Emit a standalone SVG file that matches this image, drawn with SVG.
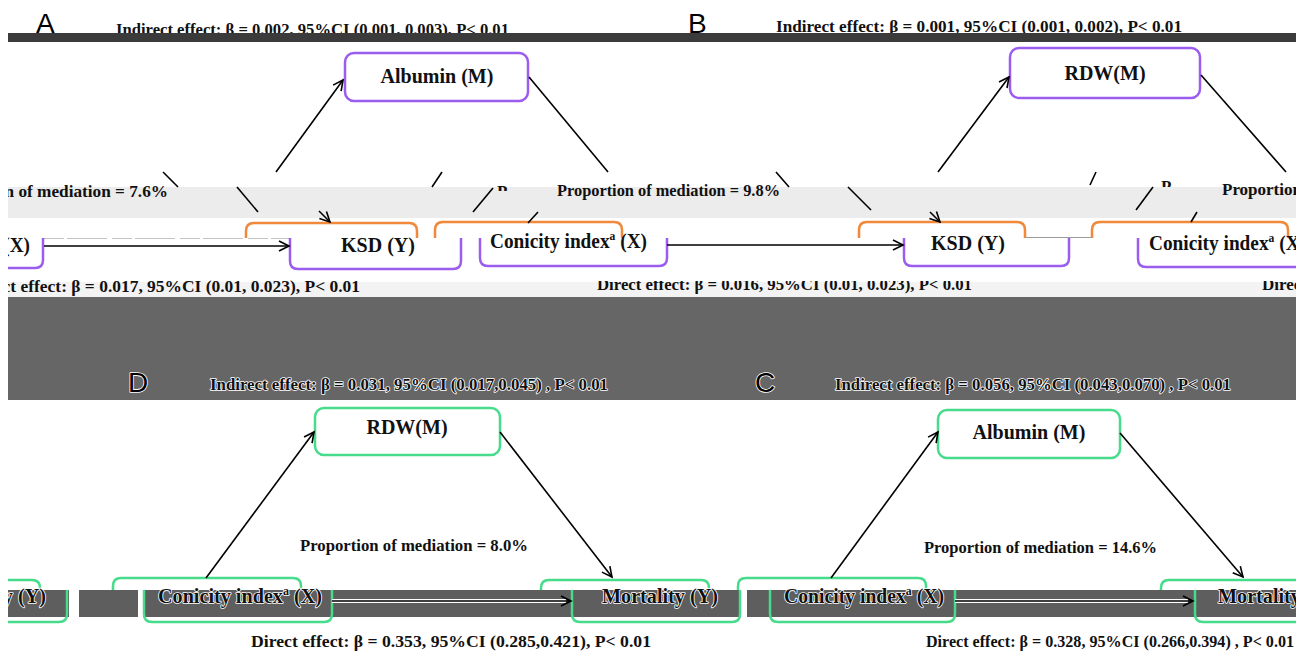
<svg xmlns="http://www.w3.org/2000/svg" width="1309" height="654" viewBox="0 0 1309 654">
<style>
.L{font-family:"Liberation Sans",Arial,sans-serif;font-size:28px;fill:#000}
.t{font-family:"Liberation Serif","Times New Roman",serif;font-weight:bold;fill:#111}
.n{font-size:20px}
.e{font-size:17px}
.h{stroke:#fff;stroke-width:1.6px;paint-order:stroke;stroke-linejoin:round}
.pb{fill:#fff;stroke:#9b5cf0;stroke-width:2.5}
.pbp{fill:none;stroke:#9b5cf0;stroke-width:2.5}
.po{fill:none;stroke:#f0893a;stroke-width:2.5}
.pg{fill:#fff;stroke:#46dc8c;stroke-width:2.5}
.pgp{fill:none;stroke:#46dc8c;stroke-width:2.5}
.c line,.c path{stroke:#000;stroke-width:1.6;fill:none}
</style>
<defs>
<marker id="ah" markerUnits="userSpaceOnUse" markerWidth="14" markerHeight="14" viewBox="0 0 14 14" refX="12" refY="7" orient="auto"><path d="M2,2 L12,7 L2,12" fill="none" stroke="#000" stroke-width="1.6"/></marker>
<clipPath id="cw"><rect x="8" y="0" width="1288" height="654"/></clipPath>
<clipPath id="cp1"><rect x="490" y="180" width="30" height="11"/></clipPath>
<clipPath id="cp2"><rect x="1155" y="176" width="30" height="11"/></clipPath>
<clipPath id="cd"><rect x="0" y="281" width="1309" height="20"/></clipPath>
</defs>
<rect width="1309" height="654" fill="#fff"/>
<g clip-path="url(#cw)">

<g id="panel-labels-top">
<text class="L" x="36" y="33">A</text>
<text class="L" x="688" y="33">B</text>
</g>
<g id="effects-top">
<text class="t e" x="116" y="35" textLength="393" lengthAdjust="spacingAndGlyphs">Indirect effect: β = 0.002, 95%CI (0.001, 0.003), P&lt; 0.01</text>
<text class="t e" x="776" y="32" textLength="406" lengthAdjust="spacingAndGlyphs">Indirect effect: β = 0.001, 95%CI (0.001, 0.002), P&lt; 0.01</text>
</g>
<rect id="band-top" x="8" y="33" width="1288" height="9" fill="#3b3b3b"/>

<g id="A-M"><rect class="pb" x="345" y="53" width="183" height="48" rx="9"/><text class="t n" x="437" y="83" text-anchor="middle">Albumin (M)</text></g>
<g id="B-M"><rect class="pb" x="1010" y="48" width="190" height="50" rx="9"/><text class="t n" x="1105" y="80" text-anchor="middle">RDW(M)</text></g>

<rect id="band-light" x="8" y="187" width="1288" height="31" fill="#ececec"/>
<g id="mediation-top">
<text class="t e" x="-67" y="197" textLength="235" lengthAdjust="spacingAndGlyphs">Proportion of mediation = 7.6%</text>
<text class="t e" x="497" y="197" clip-path="url(#cp1)">P</text>
<text class="t e" x="557" y="196" textLength="223" lengthAdjust="spacingAndGlyphs">Proportion of mediation = 9.8%</text>
<text class="t e" x="1161" y="192" clip-path="url(#cp2)">P</text>
<text class="t e" x="1222" y="195">Proportion</text>
</g>

<g id="A-Y-top"><path class="po" d="M246,238 V231 Q246,223 254,223 H409 Q417,223 417,231 V238"/></g>
<g id="A-X-top"><path class="po" d="M435,238 V230 Q435,222 443,222 H614 Q622,222 622,230 V238"/></g>
<g id="B-Y-top"><path class="po" d="M859,238 V230 Q859,222 867,222 H1017 Q1025,222 1025,230 V238"/></g>
<g id="B-X-top"><path class="po" d="M1092,238 V230 Q1092,222 1100,222 H1280 Q1288,222 1288,230 V238"/></g>

<g id="glitch-lines" stroke="#c4c4c4" stroke-width="1">
<line x1="44" y1="238.5" x2="290" y2="238.5" stroke-dasharray="20 3 40 5"/>
<line x1="1025" y1="237.5" x2="1092" y2="237.5" stroke="#9a9a9a"/>
</g>

<g id="X-left"><path class="pbp" d="M8,268 H35 Q43,268 43,260 V238"/><text class="t n" x="-127" y="252" textLength="157" lengthAdjust="spacingAndGlyphs">Conicity index<tspan font-size="12" dy="-8">a</tspan><tspan dy="8"> (X)</tspan></text></g>
<g id="A-Y"><path class="pbp" d="M290,238 V261 Q290,269 298,269 H453 Q461,269 461,261 V238"/><text class="t n" x="378" y="252" text-anchor="middle">KSD (Y)</text></g>
<g id="A-X"><path class="pbp" d="M480,238 V258 Q480,266 488,266 H659 Q667,266 667,258 V238"/><text class="t n" x="490" y="248" textLength="157" lengthAdjust="spacingAndGlyphs">Conicity index<tspan font-size="12" dy="-8">a</tspan><tspan dy="8"> (X)</tspan></text></g>
<g id="B-Y"><path class="pbp" d="M904,238 V258 Q904,266 912,266 H1061 Q1069,266 1069,258 V238"/><text class="t n" x="968" y="250" text-anchor="middle">KSD (Y)</text></g>
<g id="B-X"><path class="pbp" d="M1138,238 V259 Q1138,267 1146,267 H1320"/><text class="t n" x="1149" y="250" textLength="157" lengthAdjust="spacingAndGlyphs">Conicity index<tspan font-size="12" dy="-8">a</tspan><tspan dy="8"> (X)</tspan></text></g>

<rect x="8" y="282" width="1288" height="15" fill="#f3f3f3"/>
<g id="direct-top">
<text class="t e" x="-30" y="292" textLength="390" lengthAdjust="spacingAndGlyphs">Direct effect: β = 0.017, 95%CI (0.01, 0.023), P&lt; 0.01</text>
<g clip-path="url(#cd)">
<text class="t e" x="597" y="290" textLength="375" lengthAdjust="spacingAndGlyphs">Direct effect: β = 0.016, 95%CI (0.01, 0.023), P&lt; 0.01</text>
<text class="t e" x="1262" y="290">Direct</text>
</g>
</g>

<rect id="band-dark" x="8" y="297" width="1288" height="103" fill="#666"/>
<g id="panel-labels-bottom">
<text class="L h" x="128" y="392">D</text>
<text class="L h" x="755" y="392">C</text>
</g>
<g id="effects-bottom">
<text class="t e h" x="210" y="390" textLength="398" lengthAdjust="spacingAndGlyphs">Indirect effect: β = 0.031, 95%CI (0.017,0.045) , P&lt; 0.01</text>
<text class="t e h" x="835" y="390" textLength="396" lengthAdjust="spacingAndGlyphs">Indirect effect: β = 0.056, 95%CI (0.043,0.070) , P&lt; 0.01</text>
</g>

<g id="D-M"><rect class="pg" x="315" y="408" width="185" height="47" rx="9"/><text class="t n" x="407" y="434" text-anchor="middle">RDW(M)</text></g>
<g id="C-M"><rect class="pg" x="938" y="410" width="182" height="48" rx="9"/><text class="t n" x="1029" y="439" text-anchor="middle">Albumin (M)</text></g>

<g id="mediation-bottom">
<text class="t e" x="300" y="551" textLength="228" lengthAdjust="spacingAndGlyphs">Proportion of mediation = 8.0%</text>
<text class="t e" x="924" y="553" textLength="233" lengthAdjust="spacingAndGlyphs">Proportion of mediation = 14.6%</text>
</g>

<g id="band-bottom" fill="#5e5e5e">
<rect x="8" y="590" width="61" height="27"/>
<rect x="79" y="590" width="59" height="27"/>
<rect x="143" y="590" width="598" height="27"/>
<rect x="747" y="590" width="549" height="27"/>
</g>

<g id="Y-left"><path class="pgp" d="M8,580 H32 Q40,580 40,588 V590 M67,590 V614 Q67,622 59,622 H8"/><text class="t n h" x="-70" y="603" textLength="116" lengthAdjust="spacingAndGlyphs">Mortality (Y)</text></g>
<g id="D-X"><path class="pgp" d="M113,590 V586 Q113,578 121,578 H293 Q301,578 301,586 V590 M144,590 V614 Q144,622 152,622 H324 Q332,622 332,614 V590"/><text class="t n h" x="158" y="603" textLength="164" lengthAdjust="spacingAndGlyphs">Conicity index<tspan font-size="12" dy="-8">a</tspan><tspan dy="8"> (X)</tspan></text></g>
<g id="D-Y"><path class="pgp" d="M541,590 V588 Q541,580 549,580 H701 Q709,580 709,588 V590 M572,590 V614 Q572,622 580,622 H732 Q740,622 740,614 V590"/><text class="t n h" x="602" y="603" textLength="116" lengthAdjust="spacingAndGlyphs">Mortality (Y)</text></g>
<g id="C-X"><path class="pgp" d="M738,590 V586 Q738,578 746,578 H918 Q926,578 926,586 V590 M770,590 V614 Q770,622 778,622 H947 Q955,622 955,614 V590"/><text class="t n h" x="784" y="603" textLength="160" lengthAdjust="spacingAndGlyphs">Conicity index<tspan font-size="12" dy="-8">a</tspan><tspan dy="8"> (X)</tspan></text></g>
<g id="C-Y"><path class="pgp" d="M1161,590 V588 Q1161,580 1169,580 H1320 M1195,590 V614 Q1195,622 1203,622 H1320"/><text class="t n h" x="1218" y="603" textLength="116" lengthAdjust="spacingAndGlyphs">Mortality (Y)</text></g>

<g id="direct-bottom">
<text class="t e" x="251" y="647" textLength="400" lengthAdjust="spacingAndGlyphs">Direct effect: β = 0.353, 95%CI (0.285,0.421), P&lt; 0.01</text>
<text class="t e" x="926" y="647" textLength="368" lengthAdjust="spacingAndGlyphs">Direct effect: β = 0.328, 95%CI (0.266,0.394) , P&lt; 0.01</text>
</g>

<g id="connectors" class="c">
<line x1="276" y1="172" x2="343" y2="80" marker-end="url(#ah)"/>
<line x1="529" y1="77" x2="608" y2="172"/>
<line x1="938" y1="172" x2="1009" y2="77" marker-end="url(#ah)"/>
<line x1="1201" y1="75" x2="1286" y2="172"/>
<line x1="163" y1="172" x2="178" y2="187"/>
<line x1="237" y1="187" x2="258" y2="212"/>
<line x1="319" y1="211" x2="330" y2="222" marker-end="url(#ah)"/>
<line x1="442" y1="172" x2="432" y2="187"/>
<line x1="493" y1="188" x2="473" y2="212"/>
<line x1="538" y1="212" x2="528" y2="223"/>
<line x1="776" y1="172" x2="789" y2="187"/>
<line x1="848" y1="187" x2="871" y2="210"/>
<line x1="930" y1="212" x2="940" y2="222" marker-end="url(#ah)"/>
<line x1="1096" y1="172" x2="1090" y2="185"/>
<line x1="1153" y1="187" x2="1136" y2="210"/>
<line x1="1197" y1="212" x2="1191" y2="222"/>
<line x1="44" y1="246" x2="289" y2="246" marker-end="url(#ah)"/>
<line x1="667" y1="245" x2="903" y2="245" marker-end="url(#ah)"/>
<line x1="206" y1="578" x2="314" y2="432" marker-end="url(#ah)"/>
<line x1="500" y1="432" x2="612" y2="577" marker-end="url(#ah)"/>
<line x1="831" y1="578" x2="938" y2="432" marker-end="url(#ah)"/>
<line x1="1120" y1="433" x2="1243" y2="577" marker-end="url(#ah)"/>
<line x1="332" y1="601" x2="566" y2="601" style="stroke:#fff;stroke-width:4"/>
<line x1="332" y1="601" x2="571" y2="601" marker-end="url(#ah)"/>
<line x1="955" y1="601" x2="1188" y2="601" style="stroke:#fff;stroke-width:4"/>
<line x1="955" y1="601" x2="1193" y2="601" marker-end="url(#ah)"/>
</g>
</g>
</svg>
